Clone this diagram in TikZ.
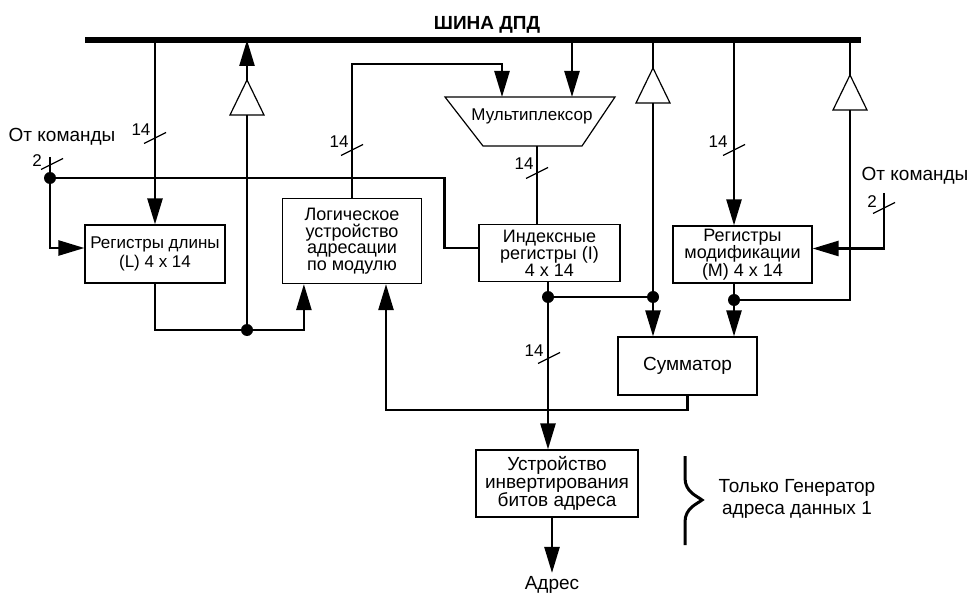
\documentclass[tikz,border=0pt]{standalone}
\usepackage{fontspec}
\setmainfont{Liberation Sans}
\usetikzlibrary{arrows.meta,calc}

\begin{document}
\begin{tikzpicture}[x=1pt,y=-1pt,font=\fontsize{18}{16.5}\selectfont,
  wire/.style={line width=2.5pt},
  arr/.style={-{Triangle[length=26pt,width=15pt]}},
  blk/.style={draw,line width=1.2pt,align=center,inner sep=0pt},
  slash/.style={line width=1.2pt},
  lbl/.style={font=\fontsize{19}{21}\selectfont},
  dot/.style={circle,fill,inner sep=0pt,minimum size=12pt}]
\useasboundingbox (0,0) rectangle (968,593);
% bus
\coordinate (busL) at (85,40);
\coordinate (busR) at (861,40);
\node[font=\fontsize{19}{21}\selectfont\bfseries] (title) at (487,25) {ШИНА ДПД};
% blocks
\node[blk,minimum width=140pt,minimum height=58pt,font=\fontsize{17}{19}\selectfont] (regL) at (155,254) {Регистры длины\\(L) 4 x 14};
\node[blk,minimum width=139pt,minimum height=85pt] (logic) at (352,241) {Логическое\\устройство\\адресации\\по модулю};
\node[blk,minimum width=141pt,minimum height=57pt] (regI) at (549.5,253) {Индексные\\регистры (I)\\4 x 14};
\node[blk,minimum width=139pt,minimum height=57pt,font=\fontsize{18}{15.5}\selectfont] (regM) at (742.5,254.5) {Регистры\\модификации\\(M) 4 x 14};
\node[blk,minimum width=139pt,minimum height=58pt,font=\fontsize{19}{21}\selectfont] (summ) at (687.5,366) {Сумматор};
\node[blk,minimum width=162pt,minimum height=67pt,font=\fontsize{19}{18}\selectfont] (inv) at (557,483.5) {Устройство\\инвертирования\\битов адреса};
\node[lbl] (addr) at (552,585) {Адрес};
% multiplexer
\draw[line width=1.2pt] (445,97) -- (615,97) -- (582,146) -- (483,146) -- cycle;
\node[font=\fontsize{17}{19}\selectfont] (mux) at (532,116) {Мультиплексор};
\coordinate (muxInA) at (502,97);
\coordinate (muxInB) at (572,97);
\coordinate (muxOut) at (537,146);
% bus drivers
\foreach \n/\x/\y in {bufA/247/80,bufB/653/68,bufC/850/75} {
  \draw[line width=1.2pt,fill=white] (\x,\y) -- ++(17,35) -- ++(-34,0) -- cycle;
  \coordinate (\n) at (\x,\y);
  \coordinate (\n-in) at (\x,\y+35);
}
% junctions and free ends
\foreach \n/\x/\y in {dotA/247/330,dotL/50/178,dotI/548/297,dotB/653/297,dotM/734/300}
  \node[dot] (\n) at (\x,\y) {};
\coordinate (cmdL) at (50,157);
\coordinate (cmdR) at (884,193);
\coordinate (fbk) at (386,410);
\node[lbl] (cmdLtxt) at (62,137) {От команды};
\node[lbl] (cmdRtxt) at (915,176) {От команды};
% from the bus
\draw[wire,arr] (regL.north |- busL) -- (regL.north);
\draw[wire,arr] (bufA) -- (bufA |- busL);
\draw[wire,arr] (muxInB |- busL) -- (muxInB);
\draw[wire] (bufB |- busL) -- (bufB);
\draw[wire,arr] (dotM |- busL) -- (dotM |- regM.north);
\draw[wire] (bufC |- busL) -- (bufC);
\draw[line width=6pt] (busL) -- (busR);
% length registers
\draw[wire] (cmdL) -- (dotL);
\draw[wire,arr] (dotL) |- ([yshift=6pt]regL.west);
\draw[wire] (dotL) -| ([xshift=-34pt,yshift=5pt]regI.west) -- ([yshift=5pt]regI.west);
\draw[wire,arr] (regL.south) |- (dotA) -| ([xshift=22pt]logic.south west);
\draw[wire] (dotA) -- (bufA-in);
% logic unit to multiplexer
\draw[wire,arr] (logic.north) |- ([yshift=33pt]muxInA) -- (muxInA);
\draw[wire] (muxOut) -- (muxOut |- regI.north);
% index registers
\draw[wire,arr] (dotI |- regI.south) -- (dotI |- inv.north);
\draw[wire] (dotI) -- (dotB);
\draw[wire,arr] (bufB-in) -- (bufB-in |- summ.north);
% modification registers
\draw[wire,arr] (cmdR) |- ([yshift=6pt]regM.east);
\draw[wire,arr] (dotM |- regM.south) -- (dotM |- summ.north);
\draw[wire] (dotM) -| (bufC-in);
% adder back to the logic unit
\draw[wire,arr] (summ.south) |- (fbk) -- (fbk |- logic.south);
% output
\draw[wire,arr] (addr.north |- inv.south) -- (addr.north);
% bus widths
\foreach \x/\y/\lx/\ly/\t [count=\i] in {155/138/141/130/14,352/150/339/142/14,537/173/524/164/14,734/150/718/142/14,549/358/534/351/14,52/164/37/161/2,884/208/872/202/2} {
  \draw[slash] (\x-11,\y+5.5) -- (\x+11,\y-5.5);
  \node[font=\fontsize{17}{19}\selectfont] (bw\i) at (\lx,\ly) {\t};
}
% data address generator 1 only
\draw[line width=3pt] (685,456) -- (685,478) .. controls (685,492) and (697,496) .. (702,500) .. controls (697,504) and (685,508) .. (685,522) -- (685,545);
\node[align=center,font=\fontsize{19}{22}\selectfont] (note) at (797,499) {Только Генератор\\адреса данных 1};
\end{tikzpicture}
\end{document}
